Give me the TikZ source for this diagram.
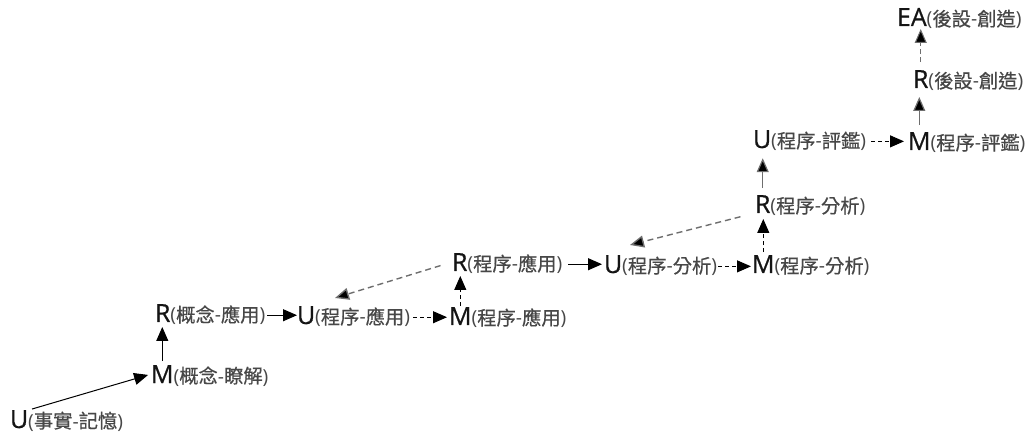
\documentclass[tikz,border=0pt]{standalone}
\usepackage{fontspec}
\setmainfont{Open Sans}
\newfontfamily\letfont{Open Sans}[BoldFont={Open Sans}, BoldFeatures={FakeBold=0.6}]
\newfontfamily\cjk{Noto Sans CJK TC}[BoldFont={Noto Sans CJK TC}, BoldFeatures={FakeBold=0.5}]
\usetikzlibrary{arrows.meta}
\definecolor{lettc}{HTML}{141414}
\definecolor{labc}{HTML}{474747}
\definecolor{grayarr}{HTML}{6E6E6E}
\newcommand{\lbl}[2]{({\cjk\bfseries #1}-{\cjk\bfseries #2})}
\tikzset{
  lett/.style={inner sep=0pt, outer sep=0pt, anchor=base west, text=lettc, font=\letfont\bfseries\fontsize{25}{25}\selectfont},
  lab/.style={inner sep=0pt, outer sep=0pt, anchor=base west, text=labc, font=\fontsize{19.3}{20}\selectfont},
  arrS/.style={-{Triangle[length=14pt,width=12pt]}, line width=1pt, black},
  arrD/.style={arrS, dash pattern=on 4pt off 3pt},
  arrGS/.style={arrS, draw=grayarr, -{Triangle[length=14pt,width=12pt,fill=black]}},
  arrGD/.style={arrGS, line width=1.4pt, dash pattern=on 6pt off 4pt},
}
\begin{document}
\begin{tikzpicture}[x=1pt,y=-1pt]
\useasboundingbox (0,0) rectangle (1033,435);
% nodes
\node[lett] (U1) at (10,428) {U};
\node[lab] (U1l) at (U1.base east) {\lbl{事實}{記憶}};
\node[lett] (M1) at (151,383) {M};
\node[lab] (M1l) at (M1.base east) {\lbl{概念}{瞭解}};
\node[lett] (R1) at (155,322) {R};
\node[lab] (R1l) at (R1.base east) {\lbl{概念}{應用}};
\node[lett] (U2) at (297,324) {U};
\node[lab] (U2l) at (U2.base east) {\lbl{程序}{應用}};
\node[lett] (M2) at (449,325) {M};
\node[lab] (M2l) at (M2.base east) {\lbl{程序}{應用}};
\node[lett] (R2) at (452,271) {R};
\node[lab] (R2l) at (R2.base east) {\lbl{程序}{應用}};
\node[lett] (U3) at (604,273) {U};
\node[lab] (U3l) at (U3.base east) {\lbl{程序}{分析}};
\node[lett] (M3) at (752,273) {M};
\node[lab] (M3l) at (M3.base east) {\lbl{程序}{分析}};
\node[lett] (R3) at (755,213) {R};
\node[lab] (R3l) at (R3.base east) {\lbl{程序}{分析}};
\node[lett] (U4) at (753,148) {U};
\node[lab] (U4l) at (U4.base east) {\lbl{程序}{評鑑}};
\node[lett] (M4) at (908,150) {M};
\node[lab] (M4l) at (M4.base east) {\lbl{程序}{評鑑}};
\node[lett] (R5) at (913,88) {R};
\node[lab] (R5l) at (R5.base east) {\lbl{後設}{創造}};
\node[lett] (EA) at (897,26) {EA};
\node[lab] (EAl) at (EA.base east) {\lbl{後設}{創造}};
\coordinate (c1) at (335,298);
\coordinate (c2) at (630,245);
% connectors
\draw[arrS, shorten <=4pt, shorten >=3pt] (U1.north east) -- (M1.west);
\draw[arrS, shorten <=4pt, shorten >=5pt] (M1.north) -- (M1.north |- R1.south);
\draw[arrS, shorten <=2pt] (R1l.east) -- (R1l.east -| U2.west);
\draw[arrD, shorten <=3pt, shorten >=2pt] (U2l.east) -- (U2l.east -| M2.west);
\draw[arrD, shorten <=1pt, shorten >=5pt] (M2.north) -- (M2.north |- R2.south);
\draw[arrGD, shorten <=12pt] (R2.west) -- (c1);
\draw[arrS, shorten <=6pt, shorten >=2pt] (R2l.east) -- (R2l.east -| U3.west);
\draw[arrD, shorten <=1pt, shorten >=1pt] (U3l.east) -- (U3l.east -| M3.west);
\draw[arrD, shorten <=3pt, shorten >=6pt] (M3.north) -- (M3.north |- R3.south);
\draw[arrGD, shorten <=15pt] (R3.south west) -- (c2);
\draw[arrGS, line width=1.2pt, shorten <=7pt, shorten >=10pt] (R3.north) -- (R3.north |- U4.south);
\draw[arrD, shorten <=5pt, shorten >=4pt] (U4l.east) -- (U4l.east -| M4.west);
\draw[arrGS, line width=1.2pt, shorten <=7pt, shorten >=9pt] (M4.north) -- (M4.north |- R5.south);
\draw[arrGD, line width=1pt, dash pattern=on 5pt off 3pt, shorten <=8pt, shorten >=3pt] (R5.north) -- (R5.north |- EA.south);
\end{tikzpicture}
\end{document}
